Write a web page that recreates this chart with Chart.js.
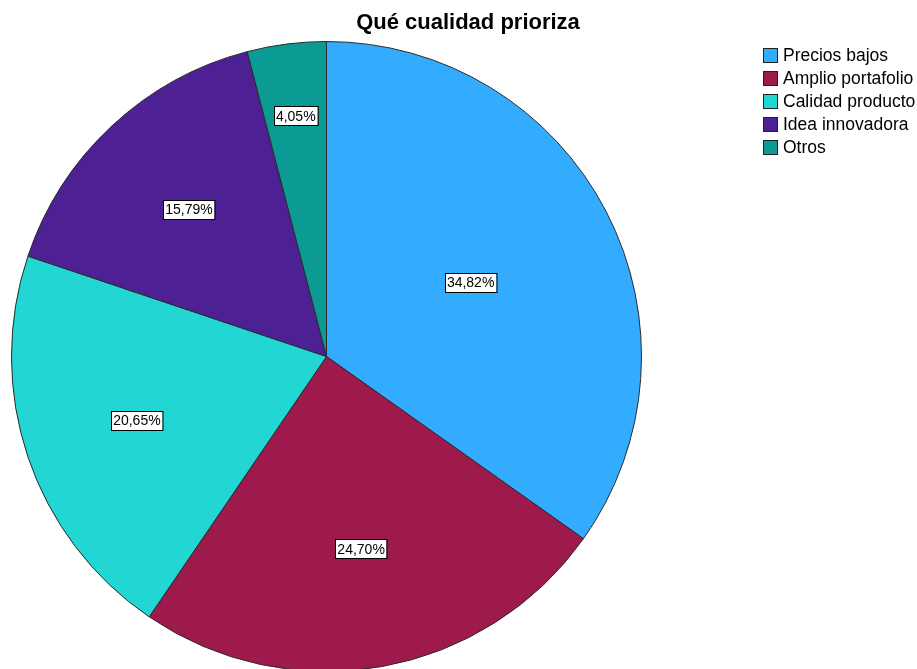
<!DOCTYPE html>
<html>
<head>
<meta charset="utf-8">
<script src="https://cdn.jsdelivr.net/npm/chart.js@4.4.0/dist/chart.umd.min.js"></script>
<style>
  html, body { margin: 0; padding: 0; background: #fff; overflow: hidden; }
  #wrap { width: 917px; height: 669px; overflow: hidden; }
</style>
</head>
<body>
<div id="wrap"><canvas id="ChartPieCualidad" width="917" height="672"></canvas></div>
<script>
var categorias = ['Precios bajos', 'Amplio portafolio', 'Calidad producto', 'Idea innovadora', 'Otros'];
var porcentajes = [34.82, 24.70, 20.65, 15.79, 4.05];
var colores = ['#33acff', '#9e1a4d', '#22d6d4', '#4d2094', '#0b9a94'];
// how far out each label sits (fraction of radius), as spss puts them
var posEtiqueta = [0.515, 0.62, 0.635, 0.64, 0.77];

var tituloPlugin = {
  id: 'titulo',
  afterDraw: function(chart) {
    var c = chart.ctx;
    c.save();
    c.fillStyle = '#000';
    c.font = 'bold 22px "Liberation Sans", Arial, sans-serif';
    c.textAlign = 'center';
    c.textBaseline = 'middle';
    c.fillText('Qué cualidad prioriza', 468, 23);

    // leyenda
    c.font = '17.5px "Liberation Sans", Arial, sans-serif';
    c.textAlign = 'left';
    for (var i = 0; i < categorias.length; i++) {
      var y = 55 + i * 23;
      c.fillStyle = colores[i];
      c.fillRect(763, y - 7, 14, 14);
      c.strokeStyle = '#222';
      c.lineWidth = 1;
      c.strokeRect(763.5, y - 6.5, 14, 14);
      c.fillStyle = '#000';
      c.fillText(categorias[i], 783, y + 1);
    }
    c.restore();
  }
};

var etiquetasPlugin = {
  id: 'etiquetas',
  afterDatasetsDraw: function(chart) {
    var c = chart.ctx;
    var meta = chart.getDatasetMeta(0);
    c.save();
    c.font = '14px "Liberation Sans", Arial, sans-serif';
    c.textAlign = 'center';
    c.textBaseline = 'middle';
    meta.data.forEach(function(arc, i) {
      var mid = (arc.startAngle + arc.endAngle) / 2;
      var r = arc.outerRadius * posEtiqueta[i];
      var x = arc.x + Math.cos(mid) * r;
      var y = arc.y + Math.sin(mid) * r;
      var txt = porcentajes[i].toFixed(2).replace('.', ',') + '%';
      var w = c.measureText(txt).width + 4;
      var h = 19;
      c.fillStyle = '#fff';
      c.fillRect(Math.round(x - w / 2), Math.round(y - h / 2), w, h);
      c.strokeStyle = '#000';
      c.lineWidth = 1;
      c.strokeRect(Math.round(x - w / 2) + 0.5, Math.round(y - h / 2) + 0.5, w, h);
      c.fillStyle = '#000';
      c.fillText(txt, x, y + 1);
    });
    c.restore();
  }
};

var ctx = document.getElementById('ChartPieCualidad').getContext('2d');
var myChart = new Chart(ctx, {
  type: 'pie',
  data: {
    labels: categorias,
    datasets: [{
      label: 'Qué cualidad prioriza',
      data: porcentajes,
      backgroundColor: colores,
      borderColor: '#2a2a2a',
      borderWidth: 1
    }]
  },
  options: {
    responsive: false,
    animation: false,
    layout: {
      padding: { left: 11, right: 275, top: 41, bottom: 0 }
    },
    plugins: {
      legend: { display: false },
      tooltip: { enabled: false }
    }
  },
  plugins: [tituloPlugin, etiquetasPlugin]
});
</script>
</body>
</html>
